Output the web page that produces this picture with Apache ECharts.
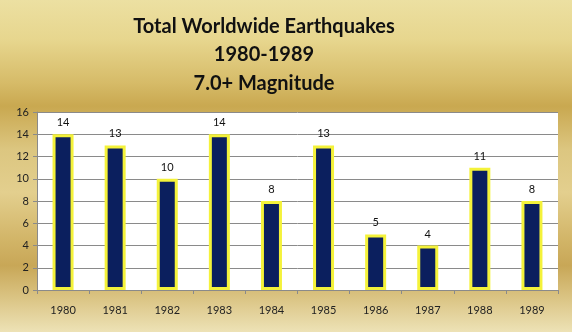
<!DOCTYPE html>
<html>
<head>
<meta charset="utf-8">
<script src="https://cdn.jsdelivr.net/npm/echarts@6/dist/echarts.min.js"></script>
<style>
  html, body { margin: 0; padding: 0; }
  #chart { width: 572px; height: 332px; }
</style>
</head>
<body>
<div id="chart"></div>
<script>
// Annual count of magnitude 7.0+ earthquakes, 1980-1989
const years = ['1980', '1981', '1982', '1983', '1984', '1985', '1986', '1987', '1988', '1989'];
const quakeCounts = [14, 13, 10, 14, 8, 13, 5, 4, 11, 8];
const titleLines = ['Total Worldwide Earthquakes', '1980-1989', '7.0+ Magnitude'];

const chart = echarts.init(document.getElementById('chart'));

// metallic gold backdrop
const gold = new echarts.graphic.LinearGradient(0, 0, 0, 1, [
  { offset: 0.00, color: '#ece0a2' },
  { offset: 0.12, color: '#e7d68e' },
  { offset: 0.25, color: '#d6bb68' },
  { offset: 0.32, color: '#c9a850' },
  { offset: 0.45, color: '#dcc680' },
  { offset: 0.58, color: '#e3cf8e' },
  { offset: 0.72, color: '#d2b568' },
  { offset: 0.80, color: '#c8a757' },
  { offset: 0.90, color: '#dbc585' },
  { offset: 1.00, color: '#ede2b6' }
]);

chart.setOption({
  backgroundColor: gold,
  animation: false,
  title: {
    text: titleLines.join('\n'),
    left: 259,
    textAlign: 'center',
    top: 7,
    textStyle: {
      fontFamily: 'Lato',
      fontWeight: 'bold',
      fontSize: 20,
      lineHeight: 28.5,
      color: '#111'
    }
  },
  grid: { left: 37, right: 14, top: 112, bottom: 42, show: true, backgroundColor: '#ffffff', borderWidth: 0 },
  xAxis: {
    type: 'category',
    data: years,
    axisLine: { lineStyle: { color: '#8a8a8a' } },
    axisTick: { show: true, length: 4, lineStyle: { color: '#8a8a8a' } },
    axisLabel: { color: '#222', fontFamily: 'Lato', fontSize: 11, margin: 15 }
  },
  yAxis: {
    type: 'value',
    min: 0,
    max: 16,
    interval: 2,
    axisLine: { show: true, lineStyle: { color: '#8a8a8a' } },
    axisTick: { show: true, length: 4, lineStyle: { color: '#8a8a8a' } },
    axisLabel: { color: '#222', fontFamily: 'Lato', fontSize: 11, margin: 8 },
    splitLine: { lineStyle: { color: '#8a8a8a', width: 1 } }
  },
  series: [{
    type: 'bar',
    data: quakeCounts,
    barWidth: 21,
    itemStyle: { color: '#0b1f5e', borderColor: '#f4f23a', borderWidth: 3 },
    label: {
      show: true,
      position: 'top',
      distance: 6,
      color: '#111',
      fontFamily: 'Lato',
      fontSize: 11
    }
  }]
});
</script>
</body>
</html>
